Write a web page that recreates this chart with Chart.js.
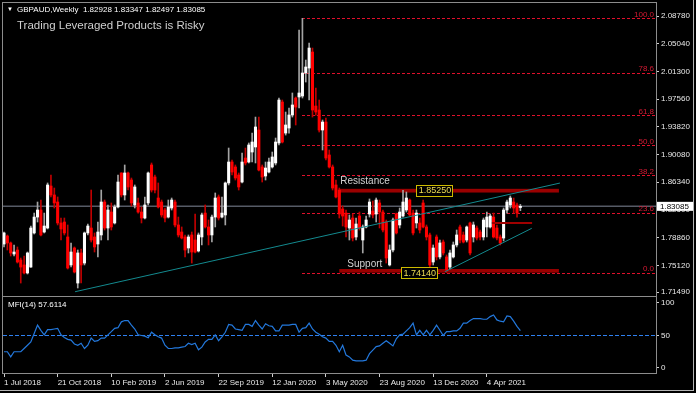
<!DOCTYPE html>
<html>
<head>
<meta charset="utf-8">
<script src="https://cdn.jsdelivr.net/npm/chart.js@4.4.1/dist/chart.umd.min.js"></script>
<style>
  html, body { margin: 0; padding: 0; background: #000; }
  #wrap { position: relative; width: 696px; height: 393px; background: #000; overflow: hidden; font-family: "Liberation Sans", Arial, sans-serif; }
  canvas { position: absolute; left: 0; }
  #main { top: 0; }
  #mfi { top: 296px; }
  .hdr { position: absolute; white-space: pre; color: #fff; }
  #frame { position: absolute; left: 0; top: 0; width: 693px; height: 390px; border-right: 1px solid #b4b4b4; border-bottom: 1px solid #b4b4b4; pointer-events: none; }
</style>
</head>
<body>
<div id="wrap">
  <canvas id="main" width="696" height="297"></canvas>
  <canvas id="mfi" width="696" height="97"></canvas>
  <div class="hdr" style="left:7px; top:6px; font-size:6px;">▼</div>
  <div class="hdr" style="left:17px; top:5px; font-size:8px;">GBPAUD,Weekly  1.82928 1.83347 1.82497 1.83085</div>
  <div class="hdr" style="left:17px; top:19px; font-size:11.5px; color:#cfcfcf;">Trading Leveraged Products is Risky</div>
  <div id="frame"></div>
</div>
<script>
// Weekly GBPAUD candles, one per week starting 1 Jul 2018
const open = [
  1.7800, 1.7908, 1.7814, 1.7665, 1.7719, 1.7584, 1.7517, 1.7409, 1.7489, 1.7949,
  1.8164, 1.8259, 1.7962, 1.8016, 1.8583, 1.8462, 1.8367, 1.8084, 1.8097, 1.7895,
  1.7517, 1.7746, 1.7273, 1.7679, 1.7543, 1.7949, 1.8016, 1.7895, 1.7800, 1.7922,
  1.8367, 1.8016, 1.8232, 1.8084, 1.8300, 1.8759, 1.8462, 1.8759, 1.8664, 1.8327,
  1.8354, 1.8232, 1.8151, 1.8354, 1.8867, 1.8705, 1.8421, 1.8367, 1.8259, 1.8164,
  1.8286, 1.8367, 1.8057, 1.7962, 1.7895, 1.7746, 1.7922, 1.7854, 1.7706, 1.7895,
  1.8218, 1.8030, 1.7922, 1.8164, 1.8435, 1.8164, 1.8192, 1.8624, 1.8907, 1.8840,
  1.8732, 1.8637, 1.8961, 1.8907, 1.9042, 1.9110, 1.9339, 1.8840, 1.8718, 1.8772,
  1.8840, 1.8894, 1.9164, 1.9717, 1.9298, 1.9366, 1.9542, 1.9771, 1.9785, 1.9798,
  2.0109, 2.0176, 2.0392, 1.9663, 1.9609, 1.9339, 1.9447, 1.9002, 1.8840, 1.8597,
  1.8529, 1.8273, 1.8218, 1.8016, 1.8151, 1.7895, 1.8178, 1.7854, 1.8030, 1.8205,
  1.8246, 1.8205, 1.8354, 1.8232, 1.8097, 1.7517, 1.7719, 1.8205, 1.8057, 1.8178,
  1.8259, 1.8394, 1.8218, 1.8084, 1.8084, 1.8354, 1.8030, 1.7922, 1.7557, 1.7895,
  1.7625, 1.7827, 1.7625, 1.7489, 1.7625, 1.7787, 1.8030, 1.7922, 1.7854, 1.8084,
  1.7895, 1.8016, 1.7962, 1.7895, 1.8030, 1.8030, 1.8164, 1.8016, 1.7895, 1.7881,
  1.8259, 1.8327, 1.8367, 1.8327, 1.82928
];
const high = [
  1.7962, 1.7922, 1.7827, 1.7787, 1.7760, 1.7611, 1.7638, 1.7692, 1.8043, 1.8218,
  1.8367, 1.8394, 1.8218, 1.8624, 1.8732, 1.8556, 1.8435, 1.8151, 1.8151, 1.8057,
  1.7814, 1.7760, 1.7719, 1.7733, 1.7962, 1.8070, 1.8529, 1.7949, 1.8097, 1.8529,
  1.8394, 1.8327, 1.8354, 1.8327, 1.8732, 1.8763, 1.8867, 1.8772, 1.8691, 1.8597,
  1.8421, 1.8300, 1.8435, 1.8772, 1.8894, 1.8732, 1.8624, 1.8394, 1.8286, 1.8394,
  1.8421, 1.8394, 1.8164, 1.8030, 1.7922, 1.7922, 1.7962, 1.8205, 1.7949, 1.8218,
  1.8327, 1.8124, 1.8192, 1.8489, 1.8462, 1.8435, 1.8637, 1.9096, 1.8934, 1.8867,
  1.8759, 1.9028, 1.9096, 1.9164, 1.9298, 1.9514, 1.9514, 1.8867, 1.8907, 1.8961,
  1.9042, 1.9231, 1.9771, 1.9744, 1.9582, 1.9636, 1.9839, 1.9785, 2.0689, 2.0847,
  2.0284, 2.0514, 2.0446, 1.9906, 1.9744, 1.9474, 1.9501, 1.9069, 1.8867, 1.8664,
  1.8556, 1.8313, 1.8259, 1.8192, 1.8205, 1.8151, 1.8232, 1.8057, 1.8178, 1.8408,
  1.8381, 1.8421, 1.8394, 1.8259, 1.8124, 1.7787, 1.8151, 1.8218, 1.8286, 1.8525,
  1.8502, 1.8408, 1.8259, 1.8259, 1.8151, 1.8394, 1.8057, 1.7949, 1.7787, 1.7922,
  1.7854, 1.7854, 1.7652, 1.7719, 1.7827, 1.7989, 1.8057, 1.7962, 1.8043, 1.8097,
  1.8097, 1.8043, 1.7989, 1.8151, 1.8232, 1.8205, 1.8218, 1.8057, 1.7922, 1.8286,
  1.8394, 1.8448, 1.8421, 1.8354, 1.83347
];
const low = [
  1.7760, 1.7719, 1.7638, 1.7638, 1.7543, 1.7273, 1.7395, 1.7395, 1.7485, 1.7935,
  1.8097, 1.7908, 1.7949, 1.8003, 1.8435, 1.8286, 1.8057, 1.7854, 1.7922, 1.7462,
  1.7489, 1.7409, 1.7206, 1.7273, 1.7517, 1.7922, 1.7827, 1.7692, 1.7625, 1.7854,
  1.7989, 1.7854, 1.7989, 1.8070, 1.8286, 1.8435, 1.8394, 1.8529, 1.8313, 1.8286,
  1.8218, 1.8084, 1.8138, 1.8327, 1.8502, 1.8489, 1.8286, 1.8164, 1.8097, 1.8151,
  1.8259, 1.8030, 1.7895, 1.7868, 1.7625, 1.7679, 1.7543, 1.7679, 1.7692, 1.7787,
  1.8016, 1.7787, 1.7827, 1.8030, 1.8124, 1.8151, 1.8057, 1.8597, 1.8732, 1.8664,
  1.8529, 1.8624, 1.8867, 1.8894, 1.8907, 1.8894, 1.8786, 1.8637, 1.8664, 1.8759,
  1.8826, 1.8867, 1.9137, 1.9164, 1.9271, 1.9298, 1.9514, 1.9407, 1.9636, 1.9771,
  1.9987, 1.9744, 1.9514, 1.9541, 1.9312, 1.9069, 1.8934, 1.8826, 1.8529, 1.8421,
  1.8151, 1.8043, 1.7895, 1.7854, 1.7841, 1.7854, 1.7989, 1.7679, 1.8016, 1.8164,
  1.8151, 1.8097, 1.8016, 1.7962, 1.7543, 1.7503, 1.7692, 1.7935, 1.8016, 1.8164,
  1.8232, 1.8178, 1.7922, 1.8016, 1.7949, 1.8016, 1.7854, 1.7449, 1.7517, 1.7584,
  1.7598, 1.7652, 1.7414, 1.7462, 1.7611, 1.7760, 1.7814, 1.7814, 1.7827, 1.7652,
  1.7827, 1.7854, 1.7854, 1.7854, 1.7895, 1.8016, 1.7881, 1.7854, 1.7787, 1.7841,
  1.8218, 1.8286, 1.8218, 1.8164, 1.82497
];
const close = [
  1.7949, 1.7814, 1.7679, 1.7692, 1.7557, 1.7489, 1.7409, 1.7679, 1.8016, 1.8164,
  1.8259, 1.7922, 1.8043, 1.8597, 1.8462, 1.8354, 1.8084, 1.8003, 1.7949, 1.7476,
  1.7692, 1.7422, 1.7679, 1.7517, 1.7949, 1.8043, 1.7854, 1.7760, 1.7962, 1.8367,
  1.8016, 1.8259, 1.8030, 1.8300, 1.8637, 1.8462, 1.8759, 1.8570, 1.8354, 1.8570,
  1.8232, 1.8151, 1.8327, 1.8759, 1.8529, 1.8529, 1.8300, 1.8192, 1.8151, 1.8300,
  1.8394, 1.8057, 1.7922, 1.7881, 1.7719, 1.7895, 1.7692, 1.7692, 1.7922, 1.8192,
  1.8030, 1.7922, 1.8164, 1.8421, 1.8151, 1.8218, 1.8624, 1.8907, 1.8772, 1.8691,
  1.8570, 1.8907, 1.8894, 1.9137, 1.9177, 1.9380, 1.8799, 1.8705, 1.8826, 1.8907,
  1.8975, 1.9177, 1.9744, 1.9177, 1.9407, 1.9542, 1.9677, 1.9649, 1.9839, 2.0109,
  2.0190, 2.0446, 1.9609, 1.9582, 1.9339, 1.9447, 1.8961, 1.8840, 1.8556, 1.8435,
  1.8205, 1.8178, 1.8030, 1.8124, 1.7881, 1.8070, 1.8016, 1.8030, 1.8124, 1.8367,
  1.8192, 1.8394, 1.8232, 1.7989, 1.7611, 1.7719, 1.8124, 1.7949, 1.8232, 1.8367,
  1.8421, 1.8192, 1.7949, 1.8218, 1.7989, 1.8030, 1.7895, 1.7517, 1.7746, 1.7625,
  1.7814, 1.7679, 1.7449, 1.7679, 1.7787, 1.7922, 1.7854, 1.7827, 1.8030, 1.7679,
  1.8057, 1.7881, 1.7895, 1.8124, 1.8164, 1.8178, 1.7895, 1.7881, 1.7814, 1.8259,
  1.8367, 1.8421, 1.8286, 1.8218, 1.83085
];
// MFI(14) per week
const mfi = [
  25, 25, 17, 25, 25, 25, 30, 35, 40, 53,
  66, 58, 51, 59, 59, 60, 61, 51, 47, 44,
  43, 37, 35, 38, 30, 35, 46, 41, 42, 46,
  46, 51, 56, 61, 62, 71, 73, 73, 66, 60,
  51, 50, 49, 46.5, 55, 51, 48, 46, 35, 30,
  30, 31, 31, 32, 33, 38, 36, 38, 28, 32,
  40, 44, 44, 51, 42, 48, 55, 67, 66, 60,
  59, 58, 67, 67, 64, 73, 66, 60, 68, 65,
  64, 57, 57, 66, 66, 66, 67, 67, 55, 61,
  62, 69, 60, 55, 52, 48, 46, 41, 41, 35,
  25, 35, 20, 17, 12, 11, 11, 11, 12, 22,
  27.5, 33, 34, 38, 42, 38, 34, 45, 51, 52,
  57, 62, 69, 51, 58, 51, 58, 51, 58, 66,
  58, 50, 56, 56, 57, 57, 61, 69, 69, 73,
  76, 76, 76, 75, 75, 79, 81.5, 74, 72, 71,
  80, 79, 72, 64, 57.6114
];

// axis ticks
const priceTicks = [2.0878, 2.0504, 2.0130, 1.9756, 1.9382, 1.9008, 1.8634, 1.8260, 1.7886, 1.7512, 1.7149];
const mfiTicks = [0, 50, 100];
const dateTickIdx = [0, 16, 32, 48, 64, 80, 96, 112, 128, 144];
const dateLabels = ['1 Jul 2018', '21 Oct 2018', '10 Feb 2019', '2 Jun 2019', '22 Sep 2019',
  '12 Jan 2020', '3 May 2020', '23 Aug 2020', '13 Dec 2020', '4 Apr 2021'];

// drawn objects
const lastPrice = 1.83085;
const fibHigh = 2.0847, fibLow = 1.7414, fibStartIdx = 89;
const fibLevels = [100, 78.6, 61.8, 50, 38.2, 23.6, 0];
const resistanceBand = [1.8545, 1.8495];
const supportBand = [1.7462, 1.7413];
const zoneFrom = 100, zoneTo = 165.5;
const trendLong = [{x: 21.2, y: 1.7156}, {x: 165.8, y: 1.8623}];
const trendChannel = [{x: 131.5, y: 1.7426}, {x: 157.4, y: 1.8012}];
const redSegment = [{x: 145.5, y: 1.8084}, {x: 157.5, y: 1.8084}];

const xMin = -0.3, xMax = 194.45;
const FONT = 'Liberation Sans';

const idx = close.map((c, i) => i);
const isUp = i => close[i] >= open[i];

// keep chart areas exactly where the panels are
function noPad(s) {
    s.paddingTop = 0; s.paddingBottom = 0; s.paddingLeft = 0; s.paddingRight = 0;
}

function rectBorder(chart) {
    const {ctx, chartArea: a} = chart;
    ctx.save();
    ctx.strokeStyle = '#8c8c8c';
    ctx.lineWidth = 1;
    ctx.strokeRect(Math.round(a.left) - 0.5, Math.round(a.top) - 0.5, Math.round(a.width) + 1, Math.round(a.height) + 1);
    ctx.restore();
}

const mainOverlay = {
    id: 'mainOverlay',
    beforeDatasetsDraw(chart) {
        const {ctx, chartArea: a, scales: {x, y}} = chart;
        ctx.save();
        ctx.beginPath();
        ctx.rect(a.left, a.top, a.width, a.height);
        ctx.clip();

        // current price line
        const py = y.getPixelForValue(lastPrice);
        ctx.strokeStyle = '#565b66';
        ctx.lineWidth = 1.5;
        ctx.beginPath();
        ctx.moveTo(a.left, py);
        ctx.lineTo(a.right, py);
        ctx.stroke();

        // fibonacci levels
        const fx = x.getPixelForValue(fibStartIdx);
        ctx.strokeStyle = '#e0102c';
        ctx.lineWidth = 1;
        ctx.setLineDash([3, 2]);
        fibLevels.forEach(l => {
            const ly = Math.round(y.getPixelForValue(fibLow + (fibHigh - fibLow) * l / 100)) + 0.5;
            ctx.beginPath();
            ctx.moveTo(Math.round(fx), ly);
            ctx.lineTo(a.right, ly);
            ctx.stroke();
        });
        ctx.setLineDash([]);

        // resistance / support zones
        ctx.fillStyle = '#9a0000';
        [resistanceBand, supportBand].forEach(b => {
            const x1 = x.getPixelForValue(zoneFrom), x2 = x.getPixelForValue(zoneTo);
            const y1 = y.getPixelForValue(b[0]), y2 = y.getPixelForValue(b[1]);
            ctx.fillRect(x1, y1, x2 - x1, y2 - y1);
        });
        ctx.restore();
    },
    afterDatasetsDraw(chart) {
        const {ctx, chartArea: a, scales: {x, y}} = chart;
        ctx.save();
        // fib labels
        ctx.font = `8px "${FONT}"`;
        ctx.fillStyle = '#d81a34';
        ctx.textAlign = 'right';
        ctx.textBaseline = 'bottom';
        fibLevels.forEach(l => {
            const ly = y.getPixelForValue(fibLow + (fibHigh - fibLow) * l / 100);
            ctx.fillText(l.toFixed(1), a.right - 2, ly);
        });

        // zone captions
        ctx.font = `10px "${FONT}"`;
        ctx.fillStyle = '#d2d2d2';
        ctx.textAlign = 'left';
        ctx.textBaseline = 'middle';
        ctx.fillText('Resistance', x.getPixelForValue(zoneFrom) + 1, y.getPixelForValue(resistanceBand[0]) - 8);
        ctx.fillText('Support', x.getPixelForValue(zoneFrom) + 8, y.getPixelForValue(supportBand[0]) - 5);

        // price boxes
        const box = (val, idxPos) => {
            const bx = x.getPixelForValue(idxPos);
            const by = y.getPixelForValue(val);
            ctx.fillStyle = '#000';
            ctx.fillRect(bx, by - 5.5, 36, 11);
            ctx.strokeStyle = '#cdbb00';
            ctx.lineWidth = 1;
            ctx.strokeRect(Math.round(bx) + 0.5, Math.round(by - 5.5) + 0.5, 36, 11);
            ctx.font = `9px "${FONT}"`;
            ctx.fillStyle = '#eedd55';
            ctx.textAlign = 'center';
            ctx.fillText(val.toFixed(5), bx + 18.5, by + 0.5);
        };
        box(1.8525, 123);
        box(1.7414, 118.5);
        ctx.restore();
    },
    afterDraw(chart) {
        rectBorder(chart);
        const {ctx, chartArea: a, scales: {y}} = chart;
        const py = y.getPixelForValue(lastPrice);
        ctx.save();
        ctx.fillStyle = '#fff';
        ctx.fillRect(a.right + 1, py - 4.5, 36, 9);
        ctx.font = `8px "${FONT}"`;
        ctx.fillStyle = '#000';
        ctx.textAlign = 'left';
        ctx.textBaseline = 'middle';
        ctx.fillText(lastPrice.toFixed(5), a.right + 4, py + 0.5);
        ctx.restore();
    }
};

new Chart(document.getElementById('main'), {
    type: 'bar',
    data: {
        datasets: [
            {
                label: 'wick',
                data: idx.map(i => ({x: i, y: [low[i], high[i]]})),
                backgroundColor: c => isUp(c.dataIndex) ? '#a4a4a4' : '#c00000',
                barThickness: 1,
                grouped: false,
                borderWidth: 0,
                order: 3
            },
            {
                label: 'body',
                data: idx.map(i => ({x: i, y: [open[i], close[i]]})),
                backgroundColor: c => isUp(c.dataIndex) ? '#ffffff' : '#ff0000',
                barThickness: 2.4,
                minBarLength: 1,
                grouped: false,
                borderWidth: 0,
                order: 2
            },
            {
                type: 'line', label: 'trend', data: trendLong,
                borderColor: '#138a8f', borderWidth: 1, pointRadius: 0, order: 1
            },
            {
                type: 'line', label: 'channel', data: trendChannel,
                borderColor: '#138a8f', borderWidth: 1, pointRadius: 0, order: 1
            },
            {
                type: 'line', label: 'level', data: redSegment,
                borderColor: '#a00000', borderWidth: 2, pointRadius: 0, order: 1
            }
        ]
    },
    options: {
        responsive: false,
        animation: false,
        devicePixelRatio: 1,
        events: [],
        layout: {padding: {left: 3, top: 3, right: 0, bottom: 1}},
        plugins: {legend: {display: false}, tooltip: {enabled: false}},
        scales: {
            x: {type: 'linear', min: xMin, max: xMax, display: false, offset: false},
            y: {
                position: 'right',
                min: 1.7098, max: 2.1054,
                afterFit: s => { s.width = 40; noPad(s); },
                afterBuildTicks: s => { s.ticks = priceTicks.map(v => ({value: v})); },
                grid: {drawOnChartArea: false, drawTicks: true, tickLength: 3, color: '#d0d0d0'},
                border: {color: '#8c8c8c'},
                ticks: {
                    color: '#e8e8e8', padding: 2,
                    font: {family: FONT, size: 8},
                    callback: v => Number(v).toFixed(5)
                }
            }
        }
    },
    plugins: [mainOverlay]
});

const mfiOverlay = {
    id: 'mfiOverlay',
    beforeDatasetsDraw(chart) {
        const {ctx, chartArea: a, scales: {y}} = chart;
        const ly = Math.round(y.getPixelForValue(50)) + 0.5;
        ctx.save();
        ctx.strokeStyle = '#2f80f0';
        ctx.lineWidth = 1;
        ctx.setLineDash([4, 2]);
        ctx.beginPath();
        ctx.moveTo(a.left, ly);
        ctx.lineTo(a.right, ly);
        ctx.stroke();
        ctx.restore();
    },
    afterDraw(chart) {
        rectBorder(chart);
        const {ctx, chartArea: a} = chart;
        ctx.save();
        ctx.font = `8px "${FONT}"`;
        ctx.fillStyle = '#fff';
        ctx.textBaseline = 'middle';
        ctx.fillText('MFI(14) ' + mfi[mfi.length - 1].toFixed(4), a.left + 5, a.top + 8);
        ctx.restore();
    }
};

new Chart(document.getElementById('mfi'), {
    type: 'line',
    data: {
        datasets: [{
            label: 'MFI(14)',
            data: idx.map(i => ({x: i, y: mfi[i]})),
            borderColor: '#2378dc',
            borderWidth: 1.2,
            pointRadius: 0,
            tension: 0
        }]
    },
    options: {
        responsive: false,
        animation: false,
        devicePixelRatio: 1,
        events: [],
        layout: {padding: {left: 3, top: 1, right: 0, bottom: 0}},
        plugins: {legend: {display: false}, tooltip: {enabled: false}},
        scales: {
            x: {
                type: 'linear', min: xMin, max: xMax, offset: false,
                afterFit: s => { s.height = 20; noPad(s); },
                afterBuildTicks: s => { s.ticks = dateTickIdx.map(v => ({value: v})); },
                grid: {drawOnChartArea: false, drawTicks: true, tickLength: 4, color: '#d0d0d0'},
                border: {color: '#8c8c8c'},
                ticks: {
                    color: '#e8e8e8', padding: 1, align: 'start', maxRotation: 0, autoSkip: false,
                    font: {family: FONT, size: 8},
                    callback: v => dateLabels[dateTickIdx.indexOf(v)]
                }
            },
            y: {
                position: 'right',
                min: -7.7, max: 109.2,
                afterFit: s => { s.width = 40; noPad(s); },
                afterBuildTicks: s => { s.ticks = mfiTicks.map(v => ({value: v})); },
                grid: {drawOnChartArea: false, drawTicks: true, tickLength: 3, color: '#d0d0d0'},
                border: {color: '#8c8c8c'},
                ticks: {color: '#e8e8e8', padding: 2, font: {family: FONT, size: 8}}
            }
        }
    },
    plugins: [mfiOverlay]
});
</script>
</body>
</html>
